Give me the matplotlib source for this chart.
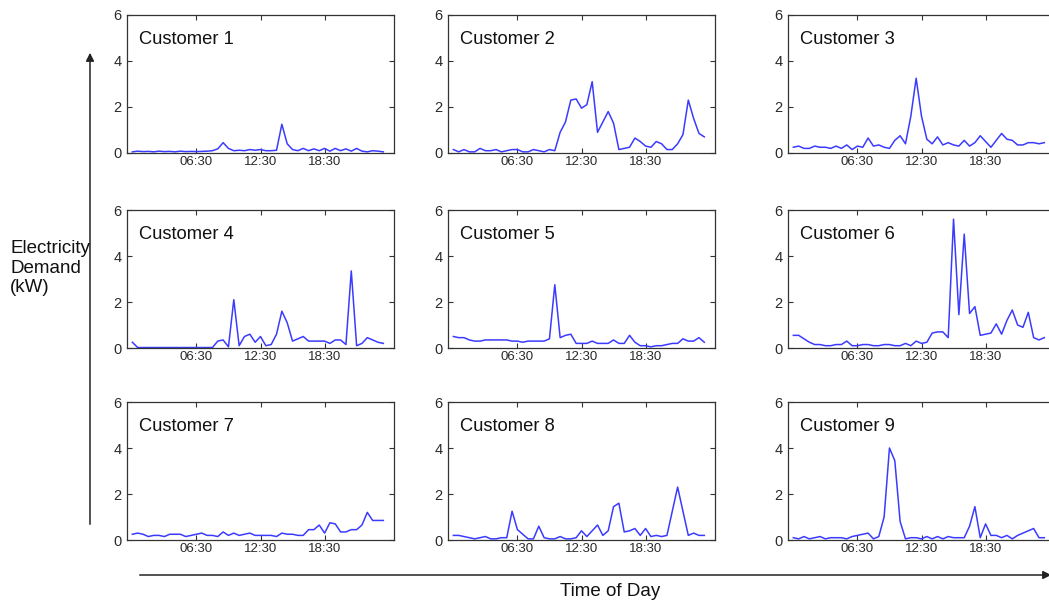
import matplotlib
matplotlib.use("Agg")
import matplotlib.pyplot as plt
import numpy as np

plt.rcParams['font.family'] = ['Liberation Sans', 'DejaVu Sans']

# half-hour index 1..48
slots = list(range(1, 49))
tick_pos = [13, 25, 37]
tick_labels = ["06:30", "12:30", "18:30"]
y_ticks = [0, 2, 4, 6]

customer_1 = [0.05, 0.08, 0.06, 0.07, 0.05, 0.08, 0.06, 0.07, 0.05, 0.08, 0.06, 0.07,
              0.06, 0.07, 0.08, 0.1, 0.18, 0.45, 0.2, 0.1, 0.12, 0.1, 0.15, 0.12,
              0.15, 0.1, 0.1, 0.12, 1.25, 0.4, 0.15, 0.1, 0.2, 0.1, 0.18, 0.1,
              0.2, 0.08, 0.2, 0.1, 0.18, 0.08, 0.2, 0.08, 0.05, 0.1, 0.08, 0.05]
customer_2 = [0.15, 0.05, 0.15, 0.05, 0.05, 0.2, 0.1, 0.1, 0.15, 0.05, 0.1, 0.15,
              0.15, 0.05, 0.05, 0.15, 0.1, 0.05, 0.15, 0.1, 0.9, 1.35, 2.3, 2.35,
              1.95, 2.1, 3.1, 0.9, 1.35, 1.8, 1.3, 0.15, 0.2, 0.25, 0.65, 0.5,
              0.3, 0.25, 0.5, 0.4, 0.15, 0.15, 0.4, 0.8, 2.3, 1.5, 0.85, 0.7]
customer_3 = [0.25, 0.3, 0.2, 0.2, 0.3, 0.25, 0.25, 0.2, 0.3, 0.2, 0.35, 0.15,
              0.3, 0.25, 0.65, 0.3, 0.35, 0.25, 0.2, 0.55, 0.75, 0.4, 1.6, 3.25,
              1.6, 0.6, 0.4, 0.7, 0.35, 0.45, 0.35, 0.3, 0.55, 0.3, 0.45, 0.75,
              0.5, 0.25, 0.55, 0.85, 0.6, 0.55, 0.35, 0.35, 0.45, 0.45, 0.4, 0.45]
customer_4 = [0.25, 0.02, 0.02, 0.02, 0.02, 0.02, 0.02, 0.02, 0.02, 0.02, 0.02, 0.02,
              0.02, 0.02, 0.02, 0.02, 0.3, 0.35, 0.05, 2.1, 0.1, 0.5, 0.6, 0.25,
              0.5, 0.1, 0.15, 0.6, 1.6, 1.1, 0.3, 0.4, 0.5, 0.3, 0.3, 0.3,
              0.3, 0.2, 0.35, 0.35, 0.15, 3.35, 0.1, 0.2, 0.45, 0.35, 0.25, 0.2]
customer_5 = [0.5, 0.45, 0.45, 0.35, 0.3, 0.3, 0.35, 0.35, 0.35, 0.35, 0.35, 0.3,
              0.3, 0.25, 0.3, 0.3, 0.3, 0.3, 0.4, 2.75, 0.45, 0.55, 0.6, 0.2,
              0.2, 0.2, 0.3, 0.2, 0.2, 0.2, 0.35, 0.2, 0.2, 0.55, 0.25, 0.1,
              0.1, 0.05, 0.1, 0.1, 0.15, 0.2, 0.2, 0.4, 0.3, 0.3, 0.45, 0.25]
customer_6 = [0.55, 0.55, 0.4, 0.25, 0.15, 0.15, 0.1, 0.1, 0.15, 0.15, 0.3, 0.1,
              0.1, 0.15, 0.15, 0.1, 0.1, 0.15, 0.15, 0.1, 0.1, 0.2, 0.1, 0.3,
              0.2, 0.25, 0.65, 0.7, 0.7, 0.45, 5.6, 1.45, 4.95, 1.5, 1.8, 0.55,
              0.6, 0.65, 1.05, 0.6, 1.2, 1.65, 1.0, 0.9, 1.55, 0.45, 0.35, 0.45]
customer_7 = [0.25, 0.3, 0.25, 0.15, 0.2, 0.2, 0.15, 0.25, 0.25, 0.25, 0.15, 0.2,
              0.25, 0.3, 0.2, 0.2, 0.15, 0.35, 0.2, 0.3, 0.2, 0.25, 0.3, 0.2,
              0.2, 0.2, 0.2, 0.15, 0.3, 0.25, 0.25, 0.2, 0.2, 0.45, 0.45, 0.65,
              0.3, 0.75, 0.7, 0.35, 0.35, 0.45, 0.45, 0.65, 1.2, 0.85, 0.85, 0.85]
customer_8 = [0.2, 0.2, 0.15, 0.1, 0.05, 0.1, 0.15, 0.05, 0.05, 0.1, 0.1, 1.25,
              0.45, 0.25, 0.05, 0.05, 0.6, 0.1, 0.05, 0.05, 0.15, 0.05, 0.05, 0.1,
              0.4, 0.15, 0.4, 0.65, 0.2, 0.4, 1.45, 1.6, 0.35, 0.4, 0.5, 0.2,
              0.5, 0.15, 0.2, 0.15, 0.2, 1.25, 2.3, 1.25, 0.2, 0.3, 0.2, 0.2]
customer_9 = [0.1, 0.05, 0.15, 0.05, 0.1, 0.15, 0.05, 0.1, 0.1, 0.1, 0.05, 0.15,
              0.2, 0.25, 0.3, 0.05, 0.15, 1.0, 4.0, 3.45, 0.8, 0.05, 0.1, 0.1,
              0.05, 0.15, 0.05, 0.15, 0.05, 0.15, 0.1, 0.1, 0.1, 0.6, 1.45, 0.1,
              0.7, 0.2, 0.2, 0.1, 0.2, 0.05, 0.2, 0.3, 0.4, 0.5, 0.1, 0.1]

series = [customer_1, customer_2, customer_3, customer_4, customer_5,
          customer_6, customer_7, customer_8, customer_9]
names = ["Customer %d" % (i + 1) for i in range(9)]

W, H = 1049, 601
fig = plt.figure(figsize=(W / 100, H / 100), dpi=100)

col_left = [127, 448, 788]
row_top = [15, 210, 402]
ax_w, ax_h = 267, 138
frame_col = '#333333'
text_col = '#2a2a2a'

for k, (vals, name) in enumerate(zip(series, names)):
    r, c = divmod(k, 3)
    left = col_left[c] / W
    bottom = (H - (row_top[r] + ax_h)) / H
    ax = fig.add_axes([left, bottom, ax_w / W, ax_h / H])
    ax.plot(slots, vals, color='#3b3bff', lw=1.1)
    ax.set_xlim(0, 50)
    ax.set_ylim(0, 6)
    ax.set_xticks(tick_pos)
    ax.set_xticklabels(tick_labels)
    ax.set_yticks(y_ticks)
    ax.tick_params(direction='in', length=3.5, width=0.8, top=True, right=True,
                   color=frame_col, labelcolor=text_col)
    ax.tick_params(axis='x', labelsize=9.5, pad=2)
    ax.tick_params(axis='y', labelsize=10.5, pad=4)
    for sp in ax.spines.values():
        sp.set_color(frame_col)
        sp.set_linewidth(0.9)
    ax.text(0.045, 0.82, name, transform=ax.transAxes, fontsize=13.2,
            va='center', ha='left', color='#111111')

# Y axis label and arrow
fig.text(10 / W, 1 - 268 / H, "Electricity\nDemand\n(kW)", fontsize=13.5,
         ha='left', va='center', linespacing=1.2, color='#111111')
fig.add_artist(matplotlib.patches.FancyArrowPatch(
    (90 / W, 1 - 527 / H), (90 / W, 1 - 50 / H), transform=fig.transFigure,
    arrowstyle='-|>', mutation_scale=12, lw=1.1, color='#222222'))

# X axis arrow and label
fig.add_artist(matplotlib.patches.FancyArrowPatch(
    (137 / W, 1 - 575 / H), (1054 / W, 1 - 575 / H), transform=fig.transFigure,
    arrowstyle='-|>', mutation_scale=12, lw=1.1, color='#222222'))
fig.text(610 / W, 1 - 591 / H, "Time of Day", fontsize=13.5, ha='center',
         va='center', color='#111111')

fig.savefig("out.png", dpi=100)
